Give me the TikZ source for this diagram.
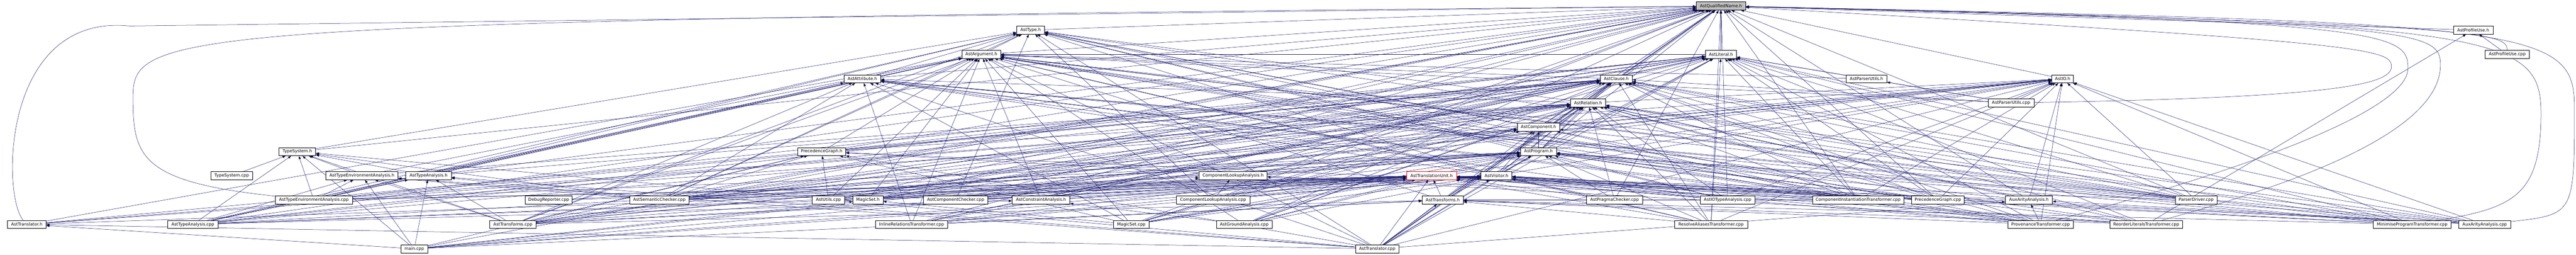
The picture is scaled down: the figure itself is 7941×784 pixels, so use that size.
\documentclass[tikz,border=0pt]{standalone}
\usepackage{fontspec}
\setmainfont{DejaVu Sans}
\usetikzlibrary{arrows.meta,backgrounds}
\definecolor{edgeblue}{RGB}{25,25,112}
\definecolor{rootgray}{RGB}{191,191,191}
\begin{document}
\begin{tikzpicture}[x=1pt,y=-1pt,
    file/.style={draw=black,fill=white,line width=1pt,inner sep=0pt,
      minimum height=25pt,minimum width=#1pt,font=\fontsize{13}{15}\selectfont},
    dep/.style={draw=edgeblue,line width=0.8pt,-{Triangle[length=10pt,width=7pt]}}]
            \useasboundingbox (0,0) rectangle (7941,784);
            % row 0 to row 2
            \node[file=152,fill=rootgray] (qname) at (5305,18.5) {AstQualifiedName.h};
            \node[file=86] (type) at (3177,92.5) {AstType.h};
            \node[file=122] (profh) at (7624,92.5) {AstProfileUse.h};
            \node[file=118] (arg) at (3025,167.5) {AstArgument.h};
            \node[file=96] (lit) at (5305,167.5) {AstLiteral.h};
            \node[file=136] (profcpp) at (7729,167.5) {AstProfileUse.cpp};
            % row 3 to row 6
            \node[file=113] (attr) at (2658.5,242.5) {AstAttribute.h};
            \node[file=99] (clause) at (4982.5,242.5) {AstClause.h};
            \node[file=125] (parsuh) at (5753.5,242.5) {AstParserUtils.h};
            \node[file=67] (io) at (6358.5,242.5) {AstIO.h};
            \node[file=109] (rel) at (4895.5,316.5) {AstRelation.h};
            \node[file=141] (parsucpp) at (6199.5,316.5) {AstParserUtils.cpp};
            \node[file=131] (comp) at (4742.5,391.5) {AstComponent.h};
            \node[file=113] (tsh) at (916.5,466.5) {TypeSystem.h};
            \node[file=148] (pgh) at (2533,466.5) {PrecedenceGraph.h};
            \node[file=111] (prog) at (4742.5,466.5) {AstProgram.h};
            % row 7
            \node[file=129] (tscpp) at (714.5,540.5) {TypeSystem.cpp};
            \node[file=223] (teah) at (1115.5,540.5) {AstTypeEnvironmentAnalysis.h};
            \node[file=140] (tah) at (1321,540.5) {AstTypeAnalysis.h};
            \node[file=210] (clah) at (3801,540.5) {ComponentLookupAnalysis.h};
            \node[file=154,draw=red] (tu) at (4413,540.5) {AstTranslationUnit.h};
            \node[file=96] (visit) at (4613,540.5) {AstVisitor.h};
            % row 8
            \node[file=239] (teacpp) at (967.5,615.5) {AstTypeEnvironmentAnalysis.cpp};
            \node[file=145] (debug) at (1691.5,615.5) {DebugReporter.cpp};
            \node[file=183] (sem) at (2032.5,615.5) {AstSemanticChecker.cpp};
            \node[file=100] (utils) at (2554,615.5) {AstUtils.cpp};
            \node[file=93] (msh) at (2675.5,615.5) {MagicSet.h};
            \node[file=198] (compchk) at (2946,615.5) {AstComponentChecker.cpp};
            \node[file=178] (cah) at (3209,615.5) {AstConstraintAnalysis.h};
            \node[file=227] (clacpp) at (3739.5,615.5) {ComponentLookupAnalysis.cpp};
            \node[file=127] (trh) at (4447.5,615.5) {AstTransforms.h};
            \node[file=172] (pragma) at (4977,615.5) {AstPragmaChecker.cpp};
            \node[file=169] (iota) at (5325.5,615.5) {AstIOTypeAnalysis.cpp};
            \node[file=282] (cit) at (5728,615.5) {ComponentInstantiationTransformer.cpp};
            \node[file=162] (pgcpp) at (5974,615.5) {PrecedenceGraph.cpp};
            \node[file=145] (aah) at (6254.5,615.5) {AuxArityAnalysis.h};
            \node[file=128] (parser) at (6770,615.5) {ParserDriver.cpp};
            % row 9 and row 10
            \node[file=119] (trlh) at (82.5,690.5) {AstTranslator.h};
            \node[file=155] (tacpp) at (594.5,690.5) {AstTypeAnalysis.cpp};
            \node[file=142] (trcpp) at (1581,690.5) {AstTransforms.cpp};
            \node[file=222] (inline) at (2810,690.5) {InlineRelationsTransformer.cpp};
            \node[file=109] (mscpp) at (3487.5,690.5) {MagicSet.cpp};
            \node[file=171] (ground) at (3835.5,690.5) {AstGroundAnalysis.cpp};
            \node[file=225] (resolve) at (5274.5,690.5) {ResolveAliasesTransformer.cpp};
            \node[file=203] (prov) at (6290.5,690.5) {ProvenanceTransformer.cpp};
            \node[file=224] (reorder) at (6616,690.5) {ReorderLiteralsTransformer.cpp};
            \node[file=240] (minimise) at (7436,690.5) {MinimiseProgramTransformer.cpp};
            \node[file=161] (aacpp) at (7659.5,690.5) {AuxArityAnalysis.cpp};
            \node[file=82] (main) at (1277,765.5) {main.cpp};
            \node[file=133] (trlcpp) at (4245.5,765.5) {AstTranslator.cpp};
            % bends of the long edges round the sides
            \coordinate (wl) at (400,80);
            \coordinate (wm) at (410,300);
            \coordinate (wr1) at (7936,330);
            \coordinate (wr2) at (7833,350);
            \coordinate (wr3) at (7523,200);
            \coordinate (wr4) at (7423,210);
            \coordinate (wr5) at (7372,205);
            % includes, drawn behind the boxes
            \begin{pgfonlayer}{background}
            \draw[dep] (trlh) .. controls (5,600) and (5,40) .. (wl) -- (qname);
            \draw[dep] (teacpp) .. controls (430,560) and (410,480) .. (wm) .. controls (410,90) and (500,65) .. (qname);
            \draw[dep] (aacpp) .. controls (7936,660) .. (wr1) .. controls (7936,80) and (7800,70) .. (qname);
            \draw[dep] (minimise) .. controls (7750,640) and (7833,600) .. (wr2) .. controls (7833,100) and (7700,70) .. (qname);
            \draw[dep] (reorder) .. controls (7100,560) and (7523,400) .. (wr3) .. controls (7523,90) and (7450,75) .. (qname);
            \draw[dep] (prov) .. controls (7000,500) and (7423,330) .. (wr4) .. controls (7423,100) and (7360,65) .. (qname);
            \draw[dep] (parsucpp) .. controls (7200,300) and (7372,260) .. (wr5) .. controls (7372,150) and (7300,130) .. (qname);
            \draw[dep] (profcpp) .. controls (7728,100) and (7680,75) .. (qname);
            \path[dep] (type) edge (qname);
            \path[dep] (profh) edge (qname);
            \path[dep] (arg) edge (qname) edge (type);
            \path[dep] (lit) edge (qname) edge (arg);
            \path[dep] (attr) edge (qname) edge (type);
            \path[dep] (clause) edge (lit) edge (arg) edge (qname);
            \path[dep] (io) edge (qname);
            \path[dep] (parsuh) edge (lit) edge (arg);
            \path[dep] (rel) edge (qname) edge (attr) edge (clause) edge (io) edge (type);
            \path[dep] (parsucpp) edge (parsuh) edge (clause) edge (lit) edge (arg) edge (io);
            \path[dep] (comp) edge (rel) edge (clause) edge (io) edge (type) edge (qname);
            \path[dep] (tsh) edge (type) edge (qname);
            \path[dep] (pgh) edge (rel) edge (clause) edge (lit) edge (arg) edge (qname);
            \path[dep] (prog) edge (comp) edge (rel) edge (clause) edge (type) edge (io) edge (qname);
            \path[dep] (profcpp) edge (profh);
            \path[dep] (tscpp) edge (tsh);
            \path[dep] (teah) edge (tsh) edge (arg) edge (clause);
            \path[dep] (tah) edge (tsh) edge (arg) edge (clause) edge (qname);
            \path[dep] (clah) edge (comp) edge (prog) edge (qname);
            \path[dep] (tu) edge (prog);
            \path[dep] (visit) edge (prog) edge (comp) edge (rel) edge (clause) edge (lit) edge (arg) edge (attr) edge (io) edge (type);
            \path[dep] (teacpp) edge (teah) edge (tsh) edge (arg) edge (clause) edge (prog) edge (tu) edge (visit) edge (type) edge (attr) edge (lit) edge (rel);
            \path[dep] (debug) edge (tu) edge (prog);
            \path[dep] (sem) edge (teah) edge (tah) edge (tsh) edge (pgh) edge (visit) edge (prog) edge (tu) edge (arg) edge (attr) edge (clause) edge (comp) edge (io) edge (lit) edge (qname) edge (rel) edge (type) edge (clah);
            \path[dep] (utils) edge (visit) edge (prog) edge (rel) edge (clause) edge (arg) edge (lit) edge (pgh) edge (qname);
            \path[dep] (msh) edge (tu) edge (clause) edge (arg) edge (rel) edge (qname) edge (lit) edge (io);
            \path[dep] (compchk) edge (clah) edge (prog) edge (comp) edge (tu) edge (rel) edge (type) edge (qname) edge (clause) edge (visit) edge (io);
            \path[dep] (cah) edge (visit) edge (arg) edge (clause) edge (lit) edge (tu);
            \path[dep] (clacpp) edge (clah) edge (comp) edge (prog) edge (tu) edge (qname) edge (visit) edge (type);
            \path[dep] (trh) edge (tu) edge (arg) edge (clause) edge (rel) edge (qname) edge (lit);
            \path[dep] (pragma) edge (prog) edge (tu) edge (visit) edge (rel) edge (qname);
            \path[dep] (iota) edge (io) edge (prog) edge (rel) edge (tu) edge (visit) edge (qname) edge (attr) edge (type);
            \path[dep] (cit) edge (clah) edge (trh) edge (prog) edge (comp) edge (rel) edge (clause) edge (io) edge (tu) edge (visit) edge (qname) edge (type) edge (arg) edge (lit) edge (attr);
            \path[dep] (pgcpp) edge (pgh) edge (clause) edge (lit) edge (prog) edge (rel) edge (tu) edge (visit) edge (io) edge (qname) edge (arg);
            \path[dep] (aah) edge (tu) edge (rel) edge (io) edge (qname) edge (prog);
            \path[dep] (parser) edge (prog) edge (tu) edge (comp) edge (rel) edge (clause) edge (io) edge (type) edge (qname) edge (attr) edge (arg) edge (lit);
            \path[dep] (trlh) edge (tu) edge (rel) edge (arg) edge (clause) edge (io);
            \path[dep] (tacpp) edge (tah) edge (teah) edge (tsh) edge (cah) edge (arg) edge (attr) edge (clause) edge (lit) edge (prog) edge (rel) edge (tu) edge (visit) edge (type) edge (qname);
            \path[dep] (trcpp) edge (trh) edge (tah) edge (teah) edge (tsh) edge (pgh) edge (visit) edge (prog) edge (arg) edge (attr) edge (clause) edge (lit) edge (rel) edge (io) edge (qname) edge (tu) edge (type) edge (comp);
            \path[dep] (inline) edge (trh) edge (visit) edge (prog) edge (rel) edge (clause) edge (lit) edge (arg) edge (tu) edge (qname) edge (attr);
            \path[dep] (mscpp) edge (msh) edge (tu) edge (prog) edge (visit) edge (io) edge (arg) edge (attr) edge (clause) edge (lit) edge (rel) edge (qname) edge (pgh);
            \path[dep] (ground) edge (cah) edge (tu) edge (visit) edge (arg) edge (clause) edge (rel) edge (prog) edge (lit) edge (qname);
            \path[dep] (resolve) edge (trh) edge (visit) edge (prog) edge (rel) edge (clause) edge (lit) edge (arg) edge (tu) edge (qname) edge (io);
            \path[dep] (prov) edge (trh) edge (aah) edge (visit) edge (prog) edge (rel) edge (clause) edge (lit) edge (arg) edge (attr) edge (io) edge (tu) edge (type);
            \path[dep] (reorder) edge (trh) edge (profh) edge (visit) edge (prog) edge (rel) edge (clause) edge (lit) edge (arg) edge (tu) edge (pgh);
            \path[dep] (minimise) edge (trh) edge (visit) edge (prog) edge (rel) edge (clause) edge (lit) edge (arg) edge (io) edge (tu) edge (attr);
            \path[dep] (aacpp) edge (aah) edge (visit) edge (prog) edge (rel) edge (clause) edge (lit) edge (arg) edge (tu) edge (attr) edge (io);
            \path[dep] (main) edge (trlh) edge (trh) edge (tah) edge (teah) edge (tsh) edge (pgh) edge (msh) edge (prog) edge (tu) edge (qname) edge (visit) edge (io);
            \path[dep] (trlcpp) edge (trlh) edge (tu) edge (trh) edge (aah) edge (tah) edge (teah) edge (tsh) edge (pgh) edge (visit) edge (prog) edge (arg) edge (attr) edge (clause) edge (lit) edge (rel) edge (io) edge (qname) edge (type) edge (comp);
            \end{pgfonlayer}
            \end{tikzpicture}
\end{document}
